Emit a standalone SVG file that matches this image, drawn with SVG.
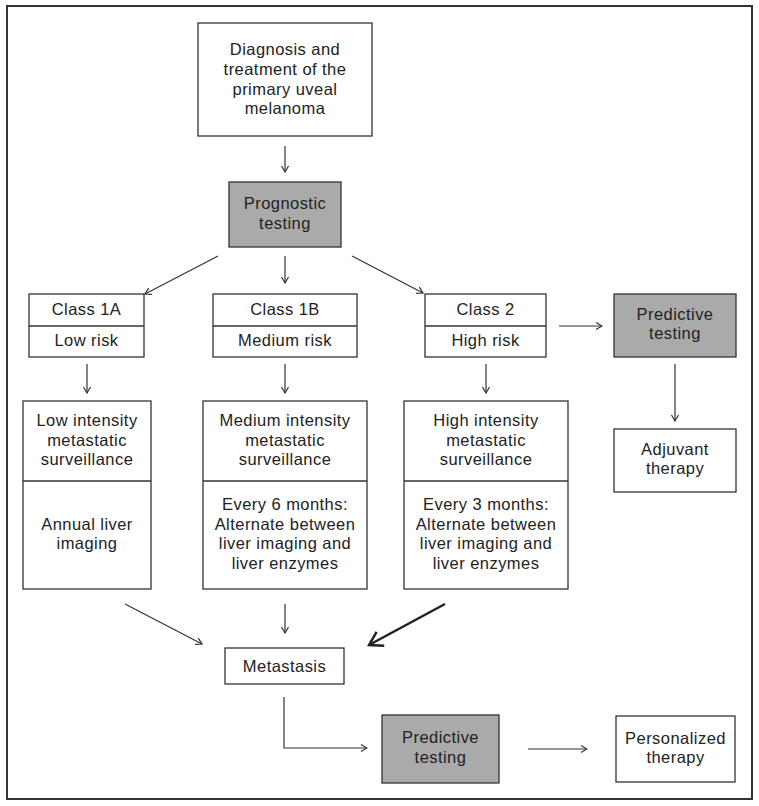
<svg xmlns="http://www.w3.org/2000/svg" width="759" height="806" viewBox="0 0 759 806">
<defs>
<style>
.box{fill:#fff;stroke:#333;stroke-width:1.3}
.gray{fill:#aaaaaa;stroke:#333;stroke-width:1.3}
.div{stroke:#333;stroke-width:1.3}
text{font-family:"Liberation Sans",Arial,sans-serif;font-size:16.5px;fill:#222;text-anchor:middle;letter-spacing:0.45px}
.c{fill:none;stroke:#333;stroke-width:1.2}
.thick{fill:none;stroke:#222;stroke-width:2.5}
</style>
<marker id="a" viewBox="0 0 10 10" refX="9" refY="5" markerWidth="10" markerHeight="10" markerUnits="userSpaceOnUse" orient="auto">
<path d="M3,1.5 L9,5 L3,8.5" fill="none" stroke="#333" stroke-width="1.2"/>
</marker>
<marker id="b" viewBox="0 0 20 20" refX="18" refY="10" markerWidth="20" markerHeight="20" markerUnits="userSpaceOnUse" orient="auto">
<path d="M5,2 L18,10 L5,18" fill="none" stroke="#222" stroke-width="2.5"/>
</marker>
</defs>
<rect x="0" y="0" width="759" height="806" fill="#fff"/>
<rect x="7" y="6" width="745" height="793" fill="none" stroke="#333" stroke-width="2"/>

<g id="diagnosis">
<rect class="box" x="198" y="23" width="174" height="113"/>
<text x="285" y="55">Diagnosis and</text>
<text x="285" y="75">treatment of the</text>
<text x="285" y="95">primary uveal</text>
<text x="285" y="114">melanoma</text>
</g>
<g id="prognostic">
<rect class="gray" x="229" y="182" width="112" height="65"/>
<text x="285" y="209">Prognostic</text>
<text x="285" y="229">testing</text>
</g>
<g id="class1a">
<rect class="box" x="29" y="294" width="115" height="63"/>
<line class="div" x1="29" y1="326" x2="144" y2="326"/>
<text x="86.5" y="315">Class 1A</text>
<text x="86.5" y="346">Low risk</text>
</g>
<g id="class1b">
<rect class="box" x="213" y="294" width="144" height="63"/>
<line class="div" x1="213" y1="326" x2="357" y2="326"/>
<text x="285" y="315">Class 1B</text>
<text x="285" y="346">Medium risk</text>
</g>
<g id="class2">
<rect class="box" x="425" y="294" width="121" height="63"/>
<line class="div" x1="425" y1="326" x2="546" y2="326"/>
<text x="485.5" y="315">Class 2</text>
<text x="485.5" y="346">High risk</text>
</g>
<g id="predictive1">
<rect class="gray" x="614" y="294" width="122" height="63"/>
<text x="675" y="320">Predictive</text>
<text x="675" y="339">testing</text>
</g>
<g id="adjuvant">
<rect class="box" x="614" y="429" width="122" height="63"/>
<text x="675" y="455">Adjuvant</text>
<text x="675" y="474">therapy</text>
</g>
<g id="low">
<rect class="box" x="23" y="401" width="128" height="188"/>
<line class="div" x1="23" y1="481" x2="151" y2="481"/>
<text x="87" y="426">Low intensity</text>
<text x="87" y="446">metastatic</text>
<text x="87" y="465">surveillance</text>
<text x="87" y="530">Annual liver</text>
<text x="87" y="549">imaging</text>
</g>
<g id="medium">
<rect class="box" x="203" y="401" width="164" height="188"/>
<line class="div" x1="203" y1="481" x2="367" y2="481"/>
<text x="285" y="426">Medium intensity</text>
<text x="285" y="446">metastatic</text>
<text x="285" y="465">surveillance</text>
<text x="285" y="510">Every 6 months:</text>
<text x="285" y="530">Alternate between</text>
<text x="285" y="549">liver imaging and</text>
<text x="285" y="569">liver enzymes</text>
</g>
<g id="high">
<rect class="box" x="404" y="401" width="164" height="188"/>
<line class="div" x1="404" y1="481" x2="568" y2="481"/>
<text x="486" y="426">High intensity</text>
<text x="486" y="446">metastatic</text>
<text x="486" y="465">surveillance</text>
<text x="486" y="510">Every 3 months:</text>
<text x="486" y="530">Alternate between</text>
<text x="486" y="549">liver imaging and</text>
<text x="486" y="569">liver enzymes</text>
</g>
<g id="metastasis">
<rect class="box" x="225" y="648" width="119" height="36"/>
<text x="284.5" y="672">Metastasis</text>
</g>
<g id="predictive2">
<rect class="gray" x="382" y="715" width="117" height="68"/>
<text x="440.5" y="743">Predictive</text>
<text x="440.5" y="763">testing</text>
</g>
<g id="personalized">
<rect class="box" x="616" y="716" width="119" height="66"/>
<text x="675.5" y="744">Personalized</text>
<text x="675.5" y="763">therapy</text>
</g>

<g id="connectors">
<line class="c" x1="285" y1="146" x2="285" y2="172" marker-end="url(#a)"/>
<line class="c" x1="218" y1="256" x2="145" y2="294" marker-end="url(#a)"/>
<line class="c" x1="285" y1="256" x2="285" y2="283" marker-end="url(#a)"/>
<line class="c" x1="352" y1="256" x2="423" y2="293" marker-end="url(#a)"/>
<line class="c" x1="559" y1="326" x2="602" y2="326" marker-end="url(#a)"/>
<line class="c" x1="675" y1="364" x2="675" y2="421" marker-end="url(#a)"/>
<line class="c" x1="87" y1="364" x2="87" y2="393" marker-end="url(#a)"/>
<line class="c" x1="285" y1="364" x2="285" y2="393" marker-end="url(#a)"/>
<line class="c" x1="486" y1="364" x2="486" y2="393" marker-end="url(#a)"/>
<line class="c" x1="125" y1="604" x2="202" y2="644" marker-end="url(#a)"/>
<line class="c" x1="285" y1="604" x2="285" y2="633" marker-end="url(#a)"/>
<line class="thick" x1="445" y1="604" x2="369" y2="645" marker-end="url(#b)"/>
<polyline class="c" points="284,697 284,748 367,748" marker-end="url(#a)"/>
<line class="c" x1="528" y1="749" x2="587" y2="749" marker-end="url(#a)"/>
</g>
</svg>
